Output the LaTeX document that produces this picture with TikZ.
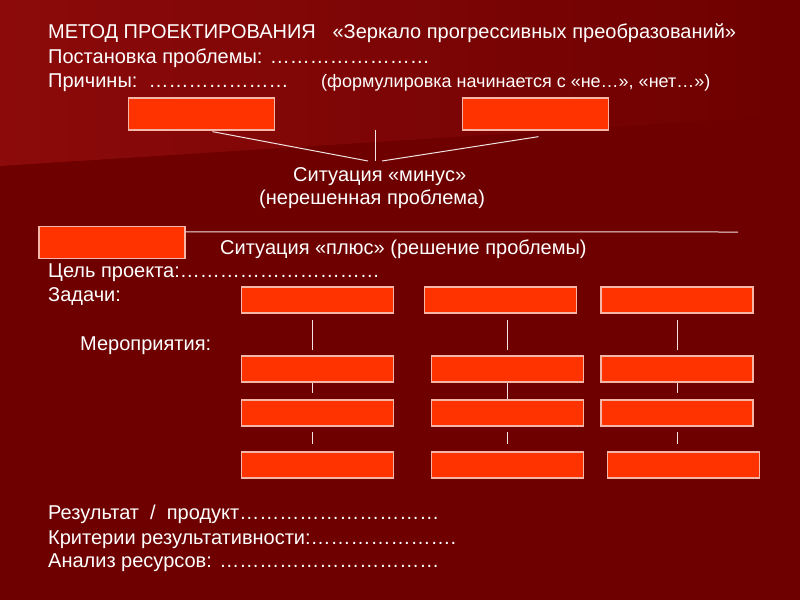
\documentclass[tikz,border=0pt]{standalone}
\usepackage{fontspec}
\setmainfont{Liberation Sans}
\usetikzlibrary{calc}
\definecolor{MPBack} {HTML}{6E0000}
\definecolor{MPGlow} {HTML}{8C0A0A}
\definecolor{MPBox}  {HTML}{FF3300}
\definecolor{MPEdge} {HTML}{F4B6A6}
\definecolor{MPText} {HTML}{FFFFFF}
\definecolor{MPLine} {HTML}{F2E2E2}
\newcommand\mpdots[1]{\foreach \k in {1,...,#1}{\char"2026}}
\tikzset{
  cell/.style={draw=MPEdge,fill=MPBox,line width=1.3pt,minimum width=152pt,minimum height=26pt,inner sep=0pt},
  cause/.style={cell,minimum width=146pt,minimum height=32pt},
  txt/.style={font=\fontsize{20}{24}\selectfont,text=MPText,anchor=base west,inner sep=0pt},
  link/.style={draw=MPLine,line width=1pt}
}

\begin{document}
\begin{tikzpicture}[x=1pt,y=-1pt]
    \useasboundingbox (0,0) rectangle (800,600);
    % background
    \fill[MPBack] (0,0) rectangle (800,600);
    \shade[left color=MPGlow,right color=MPBack] (0,0) -- (800,0) -- (800,115) -- (0,166) -- cycle;

    % heading
    \node[txt] (title)   at (48,38) {МЕТОД ПРОЕКТИРОВАНИЯ~~~«Зеркало прогрессивных преобразований»};
    \node[txt] (problem) at (48,63) {Постановка проблемы: \mpdots{8}};
    \node[txt] (causes)  at (48,87) {Причины:~~\mpdots{7}};
    \node[txt,font=\fontsize{18}{22}\selectfont] (hint) at (321,87) {(формулировка начинается с «не…», «нет…»)};

    % minus
    \node[cause] (causeL) at (201.5,114) {};
    \node[cause] (causeR) at (535.5,114) {};
    \coordinate (stem) at (375,130);
    \coordinate (apex) at (375,161);
    \draw[link] (stem) -- (apex);
    \draw[link] ($(causeL.south)+(11,1)$) -- ($(apex)+(-7,0)$);
    \draw[link] ($(causeR.south)+(3,6)$) -- ($(apex)+(7,0)$);
    \node[txt] (minus)    at (293,181) {Ситуация «минус»};
    \node[txt] (unsolved) at (259,204) {(нерешенная проблема)};

    % plus
    \node[cause] (plusbox) at (112,242.5) {};
    \coordinate (plusend) at (738,232);
    \draw[link] ($(plusbox.north east)+(0,6)$) -- (plusend);
    \node[txt] (plus)  at (220,254) {Ситуация «плюс» (решение проблемы)};
    \node[txt] (goal)  at (48,277) {Цель проекта:\mpdots{10}};
    \node[txt] (tasks) at (48,301) {Задачи:};
    \node[txt] (acts)  at (80,350) {Мероприятия:};

    % tasks and actions
    \node[cell] (t1) at (317.5,300) {};
    \node[cell] (t2) at (500.5,300) {};
    \node[cell] (t3) at (677,300) {};
    \node[cell] (a1) at (317.5,369) {};
    \node[cell] (a2) at (507.5,369) {};
    \node[cell] (a3) at (677,369) {};
    \node[cell] (b1) at (317.5,413) {};
    \node[cell] (b2) at (507.5,413) {};
    \node[cell] (b3) at (677,413) {};
    \node[cell] (c1) at (317.5,465) {};
    \node[cell] (c2) at (507.5,465) {};
    \node[cell] (c3) at (683.5,465) {};

    \draw[link] ($(t1.south)+(-5.5,6)$) -- ($(a1.north)+(-5.5,-5)$);
    \draw[link] ($(t2.south -| a2.north)+(0,6)$) -- ($(a2.north)+(0,-5)$);
    \draw[link] ($(t3.south)+(0,6)$) -- ($(a3.north)+(0,-5)$);
    \draw[link] ($(a1.south)+(-5.5,0)$) -- ($(b1.north)+(-5.5,-6)$);
    \draw[link] (a2.south) -- (b2.north);
    \draw[link] (a3.south) -- ($(b3.north)+(0,-6)$);
    \draw[link] ($(b1.south)+(-5.5,5)$) -- ($(c1.north)+(-5.5,-7)$);
    \draw[link] ($(b2.south)+(0,5)$) -- ($(c2.north)+(0,-7)$);
    \draw[link] ($(b3.south)+(0,5)$) -- ($(c3.north -| b3.south)+(0,-7)$);

    % footer
    \node[txt] (result)    at (48,519) {Результат~~/~~продукт\mpdots{10}};
    \node[txt] (criteria)  at (48,544) {Критерии результативности:\mpdots{7}.};
    \node[txt] (resources) at (48,567) {Анализ ресурсов: \mpdots{11}};
  \end{tikzpicture}
\end{document}
